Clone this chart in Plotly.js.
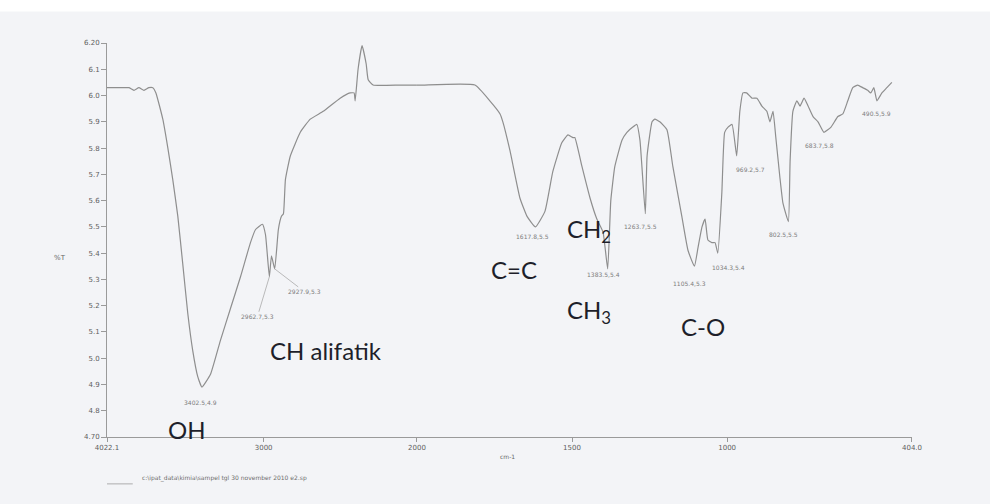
<!DOCTYPE html>
<html>
<head>
<meta charset="utf-8">
<script src="https://cdn.plot.ly/plotly-3.0.1.min.js"></script>
<style>html,body{margin:0;padding:0;background:#fff;}#chart{width:990px;height:504px;}</style>
</head>
<body>
<div id="chart"></div>
<script>
// Wavenumber (cm-1) and transmittance (%T)
const wavenumber = [4022.1,3911,3879,3846,3814,3781,3749,3723,3703,3658,3625,3593,3560,3528,3495,3463,3430,3402.5,3346,3281,3216,3151,3086,3053,3008,2988,2962.7,2949,2927.9,2904,2884,2871,2858,2826,2761,2696,2611,2501,2436,2410,2403,2384,2358,2331,2318,2286,2110,2000,
  1981,1813,1765,1732,1723,1700,1668,1645,1617.8,1587,1562,1533,1513,1497,1491,1468,1442,1420,1400,1385,1375,1362,1339,1323,1304,1291,1281,1263.7,1258,1242,1233,1217,1194,1175,1146,1126,1105.4,1094,1081,1071,1062,1049,1039,1030,1017,1008,997,984,969.2,959,949,937,920,904,888,872,862,852,843,830,820,802.5,797,788,775,765,752,739,723,707,688,665,643,627,611,595,579,563,547,537,527,517,501,485,469];
const transmittance = [6.03,6.03,6.03,6.02,6.03,6.02,6.03,6.03,6.01,5.91,5.80,5.68,5.54,5.36,5.17,5.03,4.93,4.89,4.94,5.07,5.19,5.31,5.44,5.49,5.51,5.47,5.31,5.39,5.34,5.49,5.54,5.55,5.68,5.77,5.86,5.91,5.94,5.99,6.01,6.01,5.98,6.10,6.19,6.12,6.06,6.04,6.04,6.04,
  6.04,6.04,5.98,5.93,5.90,5.79,5.61,5.54,5.50,5.56,5.71,5.82,5.85,5.84,5.84,5.73,5.61,5.53,5.48,5.34,5.60,5.73,5.83,5.86,5.88,5.89,5.83,5.55,5.77,5.90,5.91,5.90,5.87,5.73,5.54,5.41,5.35,5.42,5.50,5.53,5.45,5.44,5.44,5.40,5.63,5.86,5.88,5.89,5.77,5.94,6.01,6.01,5.99,5.99,5.96,5.94,5.90,5.94,5.84,5.69,5.59,5.52,5.75,5.94,5.98,5.96,5.99,5.96,5.92,5.90,5.86,5.88,5.92,5.93,5.98,6.03,6.04,6.03,6.02,6.01,6.03,5.98,6.01,6.03,6.05];

const yTickVals = [4.7,4.8,4.9,5.0,5.1,5.2,5.3,5.4,5.5,5.6,5.7,5.8,5.9,6.0,6.1,6.2];
const yTickText = ["4.70","4.8","4.9","5.0","5.1","5.2","5.3","5.4","5.5","5.6","5.7","5.8","5.9","6.0","6.1","6.20"];
const xTickValsHigh = [4022.1,3000,2000];
const xTickTextHigh = ["4022.1","3000","2000"];
const xTickValsLow = [1500,1000,404];
const xTickTextLow = ["1500","1000","404.0"];

// Peak labels: [text, wavenumber position, %T position, axis]
const peakLabels = [
  ["3402.5,4.9", 3411, 4.83, "x"],
  ["1617.8,5.5", 1629, 5.465, "x2"],
  ["1383.5,5.4", 1400, 5.317, "x2"],
  ["1263.7,5.5", 1278, 5.50, "x2"],
  ["1105.4,5.3", 1120, 5.286, "x2"],
  ["1034.3,5.4", 995, 5.347, "x2"],
  ["969.2,5.7", 924, 5.72, "x2"],
  ["802.5,5.5", 817, 5.47, "x2"],
  ["683.7,5.8", 701, 5.81, "x2"],
  ["490.5,5.9", 517, 5.93, "x2"]
];
// Functional group labels
const groupLabels = [
  ["OH", 3502, 4.73, "x"],
  ["CH alifatik", 2592, 5.03, "x"],
  ["C=C", 1687, 5.336, "x2"],
  ["CH<sub>2</sub>", 1445, 5.488, "x2"],
  ["CH<sub>3</sub>", 1445, 5.176, "x2"],
  ["C-O", 1078, 5.12, "x2"]
];

const hiX = [], hiY = [], loX = [], loY = [];
wavenumber.forEach((w, i) => {
  if (w >= 2000) { hiX.push(w); hiY.push(transmittance[i]); }
  if (w <= 2000) { loX.push(w); loY.push(transmittance[i]); }
});

const lineStyle = {color: '#8e8e8e', width: 1.2, shape: 'spline', smoothing: 0.4};
const traces = [
  {x: hiX, y: hiY, xaxis: 'x', yaxis: 'y', type: 'scatter', mode: 'lines', line: lineStyle, hoverinfo: 'skip'},
  {x: loX, y: loY, xaxis: 'x2', yaxis: 'y', type: 'scatter', mode: 'lines', line: lineStyle, hoverinfo: 'skip'}
];

const smallFont = {family: 'DejaVu Sans', size: 6, color: '#7c7c7c'};
const bigFont = {family: 'Lato', size: 24, color: '#1e1f2a'};

const annotations = [];
peakLabels.forEach(p => annotations.push({text: p[0], x: p[1], y: p[2], xref: p[3], yref: 'y', showarrow: false, font: smallFont}));
// leader-line labels for CH aliphatic doublet
annotations.push({text: "2962.7,5.3", x: 2962.7, y: 5.31, xref: 'x', yref: 'y', showarrow: true, arrowhead: 0, arrowwidth: 0.8, arrowcolor: '#aaaaaa', ax: -12, ay: 40, font: smallFont});
annotations.push({text: "2927.9,5.3", x: 2927.9, y: 5.34, xref: 'x', yref: 'y', showarrow: true, arrowhead: 0, arrowwidth: 0.8, arrowcolor: '#aaaaaa', ax: 30, ay: 23, font: smallFont});
groupLabels.forEach(g => annotations.push({text: g[0], x: g[1], y: g[2], xref: g[3], yref: 'y', showarrow: false, font: bigFont}));
annotations.push({text: "%T", x: -0.068, y: 0.454, xref: 'paper', yref: 'paper', showarrow: false, font: {family: 'DejaVu Sans', size: 7, color: '#666'}});
annotations.push({text: "cm-1", x: 1707, y: -0.063, xref: 'x2', yref: 'paper', showarrow: false, font: {family: 'DejaVu Sans', size: 6, color: '#666'}});
annotations.push({text: "c:\\ipat_data\\kimia\\sampel tgl 30 november 2010 e2.sp", x: 0.041, y: -0.119, xref: 'paper', yref: 'paper', xanchor: 'left', showarrow: false, font: {family: 'DejaVu Sans', size: 6, color: '#6e6e6e'}});

const axisCommon = {
  showgrid: false, zeroline: false, showline: true, linecolor: '#9a9a9a', linewidth: 1,
  ticks: 'outside', ticklen: 4, tickcolor: '#9a9a9a', tickfont: {family: 'DejaVu Sans', size: 7, color: '#5e5e5e'}, tickmode: 'array'
};

const layout = {
  width: 990, height: 504,
  margin: {l: 107, r: 78, t: 43, b: 67},
  paper_bgcolor: '#f3f4f7', plot_bgcolor: 'rgba(0,0,0,0)',
  showlegend: false,
  xaxis: Object.assign({}, axisCommon, {domain: [0, 0.385], range: [4022.1, 2000], tickvals: xTickValsHigh, ticktext: xTickTextHigh, anchor: 'y'}),
  xaxis2: Object.assign({}, axisCommon, {domain: [0.385, 1], range: [2000, 404], tickvals: xTickValsLow, ticktext: xTickTextLow, anchor: 'y'}),
  yaxis: Object.assign({}, axisCommon, {range: [4.70, 6.20], tickvals: yTickVals, ticktext: yTickText, ticklen: 5}),
  annotations: annotations,
  shapes: [
    {type: 'rect', xref: 'paper', yref: 'paper', x0: -0.2, x1: 1.2, y0: 1.08, y1: 1.2, fillcolor: '#ffffff', line: {width: 0}},
    {type: 'line', xref: 'paper', yref: 'paper', x0: 0, x1: 0.032, y0: -0.119, y1: -0.119, line: {color: '#9a9a9a', width: 0.8}}
  ]
};

Plotly.newPlot('chart', traces, layout, {displayModeBar: false, staticPlot: true});
</script>
</body>
</html>
